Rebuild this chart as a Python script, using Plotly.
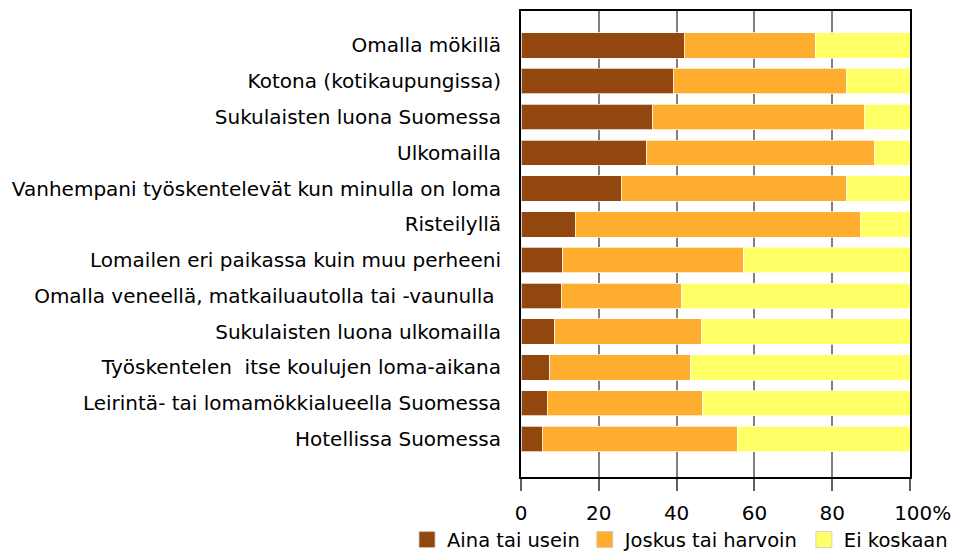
import plotly.graph_objects as go

categories = [
    "Omalla mökillä",
    "Kotona (kotikaupungissa)",
    "Sukulaisten luona Suomessa",
    "Ulkomailla",
    "Vanhempani työskentelevät kun minulla on loma",
    "Risteilyllä",
    "Lomailen eri paikassa kuin muu perheeni",
    "Omalla veneellä, matkailuautolla tai -vaunulla ",
    "Sukulaisten luona ulkomailla",
    "Työskentelen  itse koulujen loma-aikana",
    "Leirintä- tai lomamökkialueella Suomessa",
    "Hotellissa Suomessa",
]
aina = [42.0, 39.2, 33.9, 32.3, 25.8, 14.0, 10.7, 10.4, 8.7, 7.4, 6.8, 5.4]
joskus = [33.6, 44.4, 54.3, 58.6, 58.0, 73.2, 46.5, 30.9, 37.7, 36.2, 39.9, 50.2]
ei = [24.4, 16.4, 11.8, 9.1, 16.2, 12.8, 42.8, 58.7, 53.6, 56.4, 53.3, 44.4]

series_names = ["Aina tai usein", "Joskus tai harvoin", "Ei koskaan"]
series_colors = ["#92470F", "#FFAD2F", "#FFFF66"]

x_tickvals = [0, 20, 40, 60, 80, 100]
x_ticktext = ["0", "20", "40", "60", "80", "\u00a0\u00a0\u00a0\u00a0100%"]

FONT = "DejaVu Sans, Verdana, sans-serif"
FS = 20

fig = go.Figure()
for name, vals, col in zip(series_names, [aina, joskus, ei], series_colors):
    fig.add_trace(go.Bar(
        y=categories, x=vals, name=name, orientation="h",
        marker=dict(color=col, line=dict(color="rgba(255,255,255,0.7)", width=1)),
        width=0.71, showlegend=False, hoverinfo="skip",
    ))
# legend entries with larger square swatches
for name, col in zip(series_names, series_colors):
    fig.add_trace(go.Scatter(
        x=[None], y=[None], mode="markers", name=name,
        marker=dict(symbol="square", size=20, color=col,
                    line=dict(color="rgba(200,200,200,0.8)", width=1)),
        showlegend=True,
    ))

fig.update_layout(
    barmode="stack",
    width=955, height=552,
    margin=dict(l=521, r=45, t=11, b=75, autoexpand=False),
    plot_bgcolor="white", paper_bgcolor="white",
    font=dict(family=FONT, size=FS, color="#000000"),
    showlegend=True,
    hovermode=False,
    legend=dict(orientation="h", x=-0.293, y=-0.135, xanchor="left", yanchor="middle",
                font=dict(size=19.5), traceorder="normal", itemwidth=30,
                itemsizing="trace", bgcolor="rgba(0,0,0,0)"),
)
fig.update_xaxes(
    range=[0, 100], tickvals=x_tickvals, ticktext=x_ticktext,
    showgrid=True, gridcolor="#808080", gridwidth=2,
    showline=True, linecolor="#000000", linewidth=2, mirror=True,
    ticks="outside", ticklen=12, tickcolor="#606060", tickwidth=2,
    ticklabelstandoff=5, automargin=False,
    zeroline=False, tickfont=dict(size=FS),
)
fig.update_yaxes(
    type="category", categoryorder="array", categoryarray=categories,
    range=[12.06, -0.96], automargin=False,
    showline=True, linecolor="#000000", linewidth=2, mirror=True,
    ticks="", ticklabelstandoff=14, showgrid=False, tickfont=dict(size=FS),
)

fig.write_html("out.html", config={"displayModeBar": False},
               post_script="document.body.style.margin='0';")
